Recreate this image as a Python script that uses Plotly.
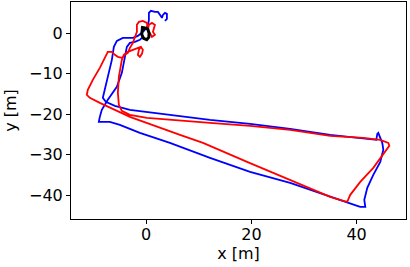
import plotly.graph_objects as go

# Blue trajectory (x, y in metres)
blue_x = [3.56, 3.94, 3.94, 3.56, 3.18, 2.99, 2.61, 2.23, 1.66, 0.90, 0.51, 0.51, 0.32, -0.44,
          -1.58, -2.53, -4.44, -5.58, -6.15, -6.53, -7.30, -7.87, -8.25, -7.68, -5.96, -3.10,
          4.51, 12.13, 19.75, 27.37, 34.99, 41.28, 43.75, 43.94, 44.13, 44.89, 45.09, 44.51,
          43.18, 42.04, 41.47, 41.66, 40.70, 40.13, 38.42, 27.37, 19.75, 12.13, 4.51, -1.20,
          -5.01, -6.91, -8.44, -9.01, -8.82, -8.44, -7.30, -5.58, -4.63, -4.06, -3.68, -3.10,
          -2.15, -1.20, -0.63]
blue_y = [3.04, 3.53, 4.77, 5.01, 4.52, 3.78, 4.52, 5.26, 5.26, 5.51, 5.01, 3.28, 1.80, 0.57,
          -0.67, -1.16, -1.16, -1.90, -3.38, -6.59, -10.79, -14.00, -15.98, -16.96, -17.95, -18.94,
          -20.17, -21.41, -22.40, -23.63, -25.11, -26.10, -26.35, -24.86, -24.62, -27.09, -28.81, -31.78,
          -34.99, -38.20, -41.16, -42.89, -42.89, -42.64, -41.90, -36.96, -34.25, -30.79, -27.09, -24.62,
          -22.64, -21.90, -21.90, -21.90, -20.67, -18.94, -16.47, -13.26, -9.80, -5.85, -3.38, -2.40,
          -2.15, -1.65, -0.91]

# Red trajectory (x, y in metres)
red_x = [0.70, 1.09, 1.66, 1.28, 1.66, 1.09, 0.51, 0.32, 0.13, -0.63, -1.39, -1.77, -1.77,
         -2.15, -2.53, -3.10, -3.49, -4.06, -4.63, -5.39, -5.96, -6.53, -7.30, -7.87, -8.82,
         -10.15, -11.10, -11.30, -10.72, -8.82, -3.10, 6.42, 10.80, 19.18, 27.37, 34.99, 37.47,
         38.23, 38.80, 40.70, 43.18, 45.09, 46.23, 46.04, 44.51, 41.28, 34.99, 27.37, 19.75,
         12.13, 4.51, 0.13, -3.10, -4.63, -5.20, -5.39, -5.20, -4.63, -4.25, -3.49, -2.53,
         -1.58, -1.01, -0.63, -0.82, -1.20, -1.58, -1.39, -1.01]
red_y = [0.07, -0.91, -0.42, 0.32, 2.05, 2.54, 2.05, 0.81, 2.54, 3.04, 2.79, 2.05, 0.32,
         -1.16, -2.40, -3.63, -4.86, -5.36, -6.10, -5.85, -5.36, -4.62, -4.62, -6.10, -8.57,
         -11.53, -14.00, -15.23, -15.98, -17.21, -20.67, -25.11, -27.09, -31.78, -36.22, -40.42, -41.41,
         -41.65, -39.93, -36.72, -33.26, -30.05, -27.83, -27.09, -26.35, -25.85, -25.36, -23.88, -22.89,
         -22.15, -21.41, -20.91, -20.17, -19.19, -17.70, -14.74, -10.79, -6.59, -5.36, -4.62, -4.12,
         -3.63, -3.38, -4.12, -5.11, -5.85, -5.36, -4.12, -3.38]

# Black trajectory (small loop near origin)
black_x = [-0.2, 0.3, 0.55, 0.5, 0.1, -0.5, -0.85, -0.75, -0.2, -1.0]
black_y = [1.3, 1.0, 0.0, -1.0, -1.6, -1.3, -0.3, 0.8, 1.3, 1.5]

x_ticks = [0, 20, 40]
y_ticks = [0, -10, -20, -30, -40]

fig = go.Figure()
fig.add_trace(go.Scatter(x=blue_x, y=blue_y, mode="lines",
                         line=dict(color="#0000ff", width=1.8), showlegend=False))
fig.add_trace(go.Scatter(x=red_x, y=red_y, mode="lines",
                         line=dict(color="#ff0000", width=1.8), showlegend=False))
fig.add_trace(go.Scatter(x=black_x, y=black_y, mode="lines",
                         line=dict(color="#000000", width=3), showlegend=False))

axis_common = dict(showgrid=False, zeroline=False, showline=True, linecolor="black",
                   linewidth=1, mirror=True, ticks="outside", ticklen=4, tickwidth=1,
                   tickcolor="black", tickfont=dict(size=16, color="black"))

fig.update_layout(
    width=410, height=267,
    margin=dict(l=71, r=4, t=2, b=48),
    paper_bgcolor="white", plot_bgcolor="white",
    font=dict(family="DejaVu Sans", size=16, color="black"),
    xaxis=dict(range=[-14.3, 49.4], tickvals=x_ticks, ticktext=[str(v) for v in x_ticks],
               ticklabelstandoff=-3,
               title=dict(text="x [m]", font=dict(size=16), standoff=0), **axis_common),
    yaxis=dict(range=[-45.9, 7.7], tickvals=y_ticks,
               ticktext=["\u2212" + str(-v) if v < 0 else str(v) for v in y_ticks],
               title=dict(text="y [m]", font=dict(size=16), standoff=8), **axis_common),
)

fig.write_html("out.html", config={"displayModeBar": False},
               post_script="document.body.style.margin='0';document.body.style.padding='0';")
